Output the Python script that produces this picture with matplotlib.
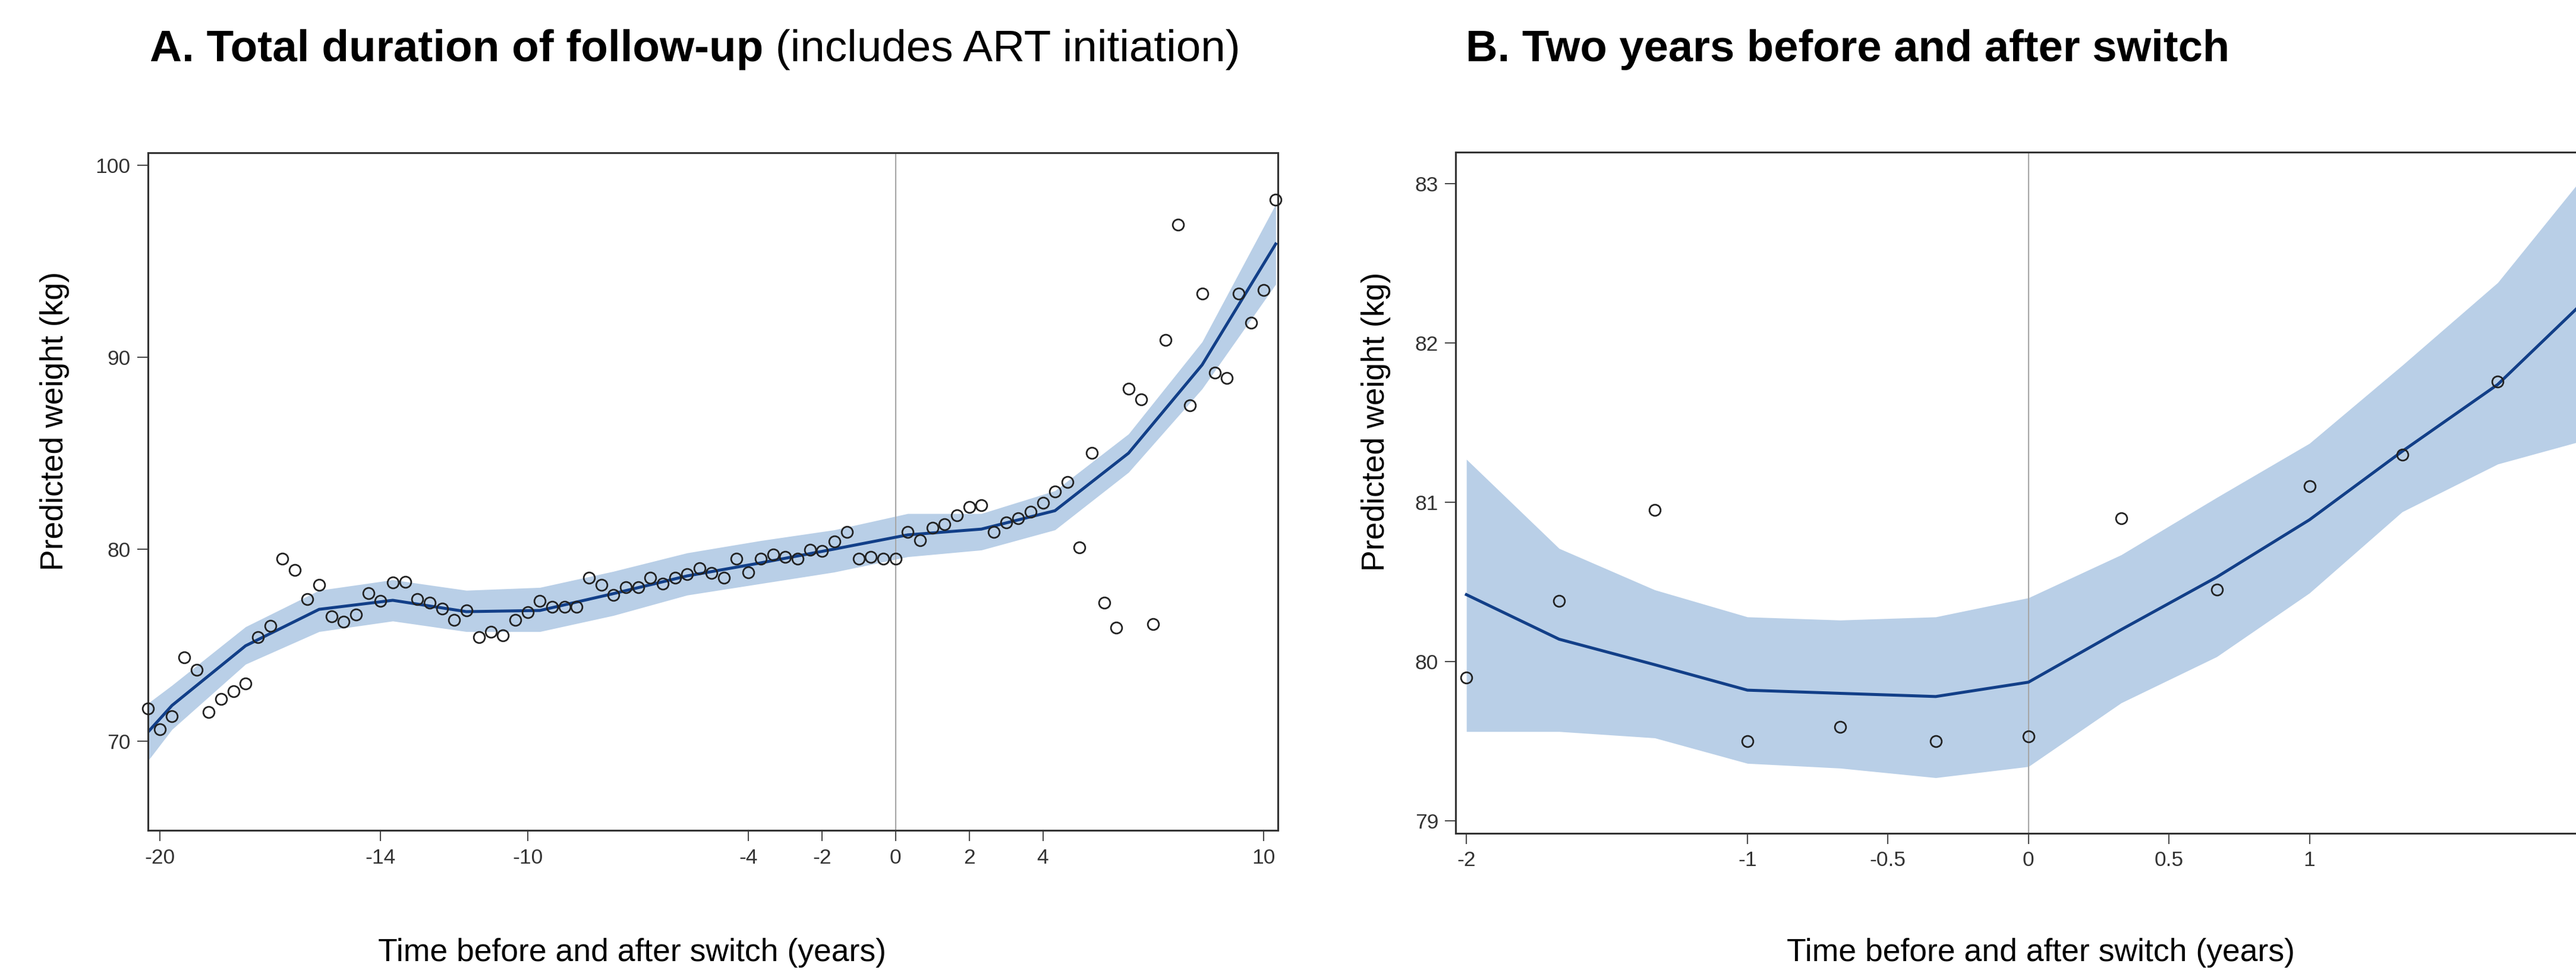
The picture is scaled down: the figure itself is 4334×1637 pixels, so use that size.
import matplotlib
matplotlib.use("Agg")
import matplotlib.pyplot as plt

plt.rcParams['font.family'] = ['Liberation Sans', 'DejaVu Sans']

# Panel A: observed mean weight every 4 months and fitted curve
time_a = [-20.33, -20.00, -19.67, -19.33, -19.00, -18.67, -18.33, -18.00, -17.67, -17.33,
          -17.00, -16.67, -16.33, -16.00, -15.67, -15.33, -15.00, -14.67, -14.33, -14.00,
          -13.67, -13.33, -13.00, -12.67, -12.33, -12.00, -11.67, -11.33, -11.00, -10.67,
          -10.33, -10.00, -9.67, -9.33, -9.00, -8.67, -8.33, -8.00, -7.67, -7.33,
          -7.00, -6.67, -6.33, -6.00, -5.67, -5.33, -5.00, -4.67, -4.33, -4.00,
          -3.67, -3.33, -3.00, -2.67, -2.33, -2.00, -1.67, -1.33, -1.00, -0.67,
          -0.33, 0.00, 0.33, 0.67, 1.00, 1.33, 1.67, 2.00, 2.33, 2.67,
          3.00, 3.33, 3.67, 4.00, 4.33, 4.67, 5.00, 5.33, 5.67, 6.00,
          6.33, 6.67, 7.00, 7.33, 7.67, 8.00, 8.33, 8.67, 9.00, 9.33,
          9.67, 10.00, 10.33]
weight_a = [71.7, 70.6, 71.3, 74.35, 73.7, 71.5, 72.2, 72.6, 73.0, 75.4,
            76.0, 79.5, 78.9, 77.4, 78.15, 76.5, 76.2, 76.6, 77.7, 77.3,
            78.25, 78.3, 77.4, 77.2, 76.9, 76.3, 76.8, 75.4, 75.7, 75.5,
            76.3, 76.7, 77.3, 77.0, 77.0, 77.0, 78.5, 78.15, 77.6, 78.0,
            78.0, 78.5, 78.2, 78.5, 78.7, 79.0, 78.75, 78.5, 79.5, 78.8,
            79.5, 79.7, 79.6, 79.5, 79.95, 79.9, 80.4, 80.9, 79.5, 79.6,
            79.5, 79.5, 80.9, 80.45, 81.1, 81.3, 81.75, 82.2, 82.3, 80.9,
            81.4, 81.6, 81.95, 82.4, 83.0, 83.5, 80.1, 85.0, 77.2, 75.9,
            88.35, 87.8, 76.1, 90.9, 96.9, 87.5, 93.3, 89.2, 88.9, 93.3,
            91.8, 93.5, 98.2]

fit_time_a = [-20.33, -19.67, -17.67, -15.67, -13.67, -11.67, -9.67, -7.67, -5.67,
              -3.67, -1.67, 0.33, 2.33, 4.33, 6.33, 8.33, 10.33]
fit_a = [70.45, 71.85, 74.96, 76.86, 77.33, 76.74, 76.8, 77.68, 78.6,
         79.28, 80.0, 80.74, 81.04, 82.0, 85.0, 89.6, 95.9]
upper_a = [71.95, 72.9, 75.95, 77.85, 78.4, 77.85, 78.0, 78.84, 79.8,
           80.44, 81.0, 81.85, 81.85, 83.04, 86.0, 90.8, 97.97]
lower_a = [68.95, 70.6, 74.0, 75.7, 76.25, 75.7, 75.7, 76.54, 77.6,
           78.2, 78.8, 79.6, 79.95, 81.0, 84.0, 88.35, 93.8]

# Panel B: two years either side of the switch
time_b = [-2.0, -1.67, -1.33, -1.0, -0.67, -0.33, 0.0, 0.33, 0.67, 1.0, 1.33, 1.67]
weight_b = [79.9, 80.38, 80.95, 79.5, 79.59, 79.5, 79.53, 80.9, 80.45, 81.1, 81.3, 81.76]

fit_time_b = [-2.0, -1.67, -1.33, -1.0, -0.67, -0.33, 0.0, 0.33, 0.67, 1.0, 1.33, 1.67, 2.0]
fit_b = [80.42, 80.14, 79.98, 79.82, 79.80, 79.78, 79.87, 80.2, 80.53, 80.89, 81.32, 81.74, 82.3]
upper_b = [81.27, 80.71, 80.45, 80.28, 80.26, 80.28, 80.4, 80.67, 81.03, 81.37, 81.86, 82.38, 83.1]
lower_b = [79.56, 79.56, 79.52, 79.36, 79.33, 79.27, 79.34, 79.74, 80.03, 80.43, 80.94, 81.24, 81.4]

ticks_a_x = [-20, -14, -10, -4, -2, 0, 2, 4, 10]
ticks_a_y = [70, 80, 90, 100]
ticks_b_x = [-2, -1, -0.5, 0, 0.5, 1]
ticks_b_y = [79, 80, 81, 82, 83]

BAND = '#b9cfe7'
LINE = '#123f88'
W, H = 4334, 1637

fig = plt.figure(figsize=(W / 100, H / 100), dpi=100)


def draw_panel(ax, t, w, ft, fit, lo, hi, xt, yt, xlim, ylim):
    ax.fill_between(ft, lo, hi, color=BAND, lw=0, zorder=1)
    ax.axvline(0, color='#a6a6a6', lw=1.5, zorder=1.5)
    ax.plot(ft, fit, color=LINE, lw=3.6, zorder=2)
    ax.plot(t, w, 'o', ms=13.5, mfc='none', mec='#222222', mew=2.0, zorder=3, clip_on=False)
    ax.set_xlim(*xlim)
    ax.set_ylim(*ylim)
    ax.set_xticks(xt)
    ax.set_xticklabels([('%g' % v) for v in xt])
    ax.set_yticks(yt)
    for s in ax.spines.values():
        s.set_linewidth(2.2)
        s.set_color('#333333')
    ax.tick_params(length=13, width=1.4, color='#444444', labelsize=25.5,
                   labelcolor='#333333', pad=8)


ax_a = fig.add_axes([248.5 / W, 1 - 1397.4 / H, (2149.8 - 248.5) / W, (1397.4 - 257.4) / H])
draw_panel(ax_a, time_a, weight_a, fit_time_a, fit_a, lower_a, upper_a,
           ticks_a_x, ticks_a_y, (-20.33, 10.386), (65.33, 100.64))

ax_b = fig.add_axes([2449.2 / W, 1 - 1402.2 / H, (4347 - 2449.2) / W, (1402.2 - 255.8) / H])
draw_panel(ax_b, time_b, weight_b, fit_time_b, fit_b, lower_b, upper_b,
           ticks_b_x, ticks_b_y, (-2.038, 1.976), (78.92, 83.2))
ax_b.lines[-1].set_clip_on(True)

# titles
t1 = fig.text(252 / W, 1 - 103 / H, 'A. Total duration of follow-up', fontsize=53.8,
              fontweight='bold', va='baseline')
fig.canvas.draw()
bb = t1.get_window_extent(fig.canvas.get_renderer())
fig.text(bb.x1 / W, 1 - 103 / H, ' (includes ART initiation)', fontsize=53.8, va='baseline')
fig.text(2466 / W, 1 - 103 / H, 'B. Two years before and after switch', fontsize=53.5,
         fontweight='bold', va='baseline')

# axis labels
xlab = 'Time before and after switch (years)'
ylab = 'Predicted weight (kg)'
fig.text(1063 / W, 1 - 1617 / H, xlab, fontsize=38.5, ha='center', va='baseline')
fig.text(3434 / W, 1 - 1617 / H, xlab, fontsize=38.5, ha='center', va='baseline')
fig.text(92 / W, 1 - 708 / H, ylab, fontsize=38.5, rotation=90, ha='center', va='center')
fig.text(2315 / W, 1 - 709 / H, ylab, fontsize=38.5, rotation=90, ha='center', va='center')

fig.savefig('out.png', dpi=100)
